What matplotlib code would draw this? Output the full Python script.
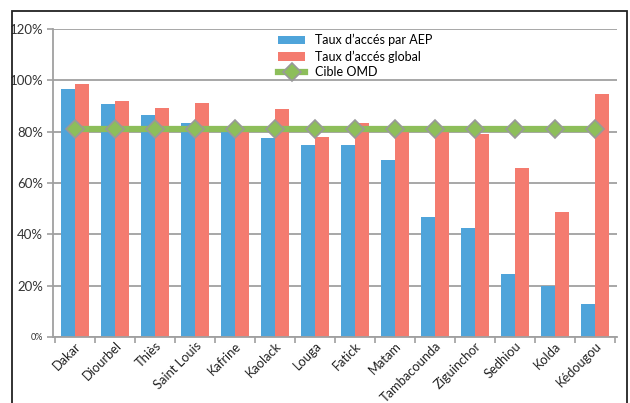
import numpy as np
import matplotlib
matplotlib.use('Agg')
import matplotlib.pyplot as plt
from matplotlib.patches import Rectangle
from matplotlib.ticker import FixedLocator

regions = ['Dakar', 'Diourbel', 'Thiès', 'Saint Louis', 'Kafrine', 'Kaolack', 'Louga',
           'Fatick', 'Matam', 'Tambacounda', 'Ziguinchor', 'Sedhiou', 'Kolda', 'Kédougou']
taux_aep = [96.6, 90.8, 86.5, 83.4, 79.8, 77.5, 74.8, 74.8, 69.0, 46.8, 42.5, 24.5, 19.7, 12.9]
taux_global = [98.6, 92.0, 89.2, 91.2, 80.3, 88.8, 78.0, 83.4, 79.8, 79.8, 79.1, 65.8, 48.7, 94.7]
cible_omd = [81] * len(regions)
y_ticks = [0, 20, 40, 60, 80, 100, 120]

plt.rcParams['font.family'] = ['Lato', 'DejaVu Sans']

fig = plt.figure(figsize=(6.3, 4.03), dpi=100)
ax = fig.add_axes([53 / 630, 66 / 403, 564 / 630, 308 / 403])

# outer chart frame
fig.patches.append(Rectangle((12 / 630, -0.05), 615 / 630, (392 / 403) + 0.05,
                             transform=fig.transFigure, fill=False,
                             edgecolor='#222222', linewidth=1.3))

x = np.arange(len(regions))
w = 0.34
b1 = ax.bar(x - w / 2, taux_aep, w, color='#4FA4DA', label="Taux d’accés par AEP", zorder=2)
b2 = ax.bar(x + w / 2, taux_global, w, color='#F47B6F', label="Taux d’accés global", zorder=2)
l1, = ax.plot(x, cible_omd, color='#8DBE5A', linewidth=4.5, marker='D', markersize=9,
              markerfacecolor='#8DBE5A', markeredgecolor='#999999', markeredgewidth=1.2,
              label='Cible OMD', zorder=3)

ax.set_xlim(-0.55, len(regions) - 0.45)
ax.set_ylim(0, 120)
ax.set_yticks(y_ticks)
ax.set_yticklabels([f'{v}%' for v in y_ticks], fontsize=9.5, color='#333333')
ax.get_yticklabels()[0].set_fontsize(6.5)
ax.yaxis.grid(True, color='#A0A0A0', linewidth=1.3, zorder=0)
ax.set_axisbelow(True)

ax.set_xticks(x)
ax.set_xticklabels(regions, rotation=45, ha='right', rotation_mode='anchor',
                   fontsize=9.3, color='#222222')
ax.tick_params(axis='x', length=0, pad=2)
ax.xaxis.set_minor_locator(FixedLocator(np.arange(-0.5, len(regions), 1)))
ax.tick_params(axis='x', which='minor', length=4, color='#A0A0A0', width=1.2)
ax.tick_params(axis='y', length=4, color='#A0A0A0', width=1.2, pad=3)

for s in ['top', 'right']:
    ax.spines[s].set_visible(False)
for s in ['left', 'bottom']:
    ax.spines[s].set_color('#A0A0A0')
    ax.spines[s].set_linewidth(1.3)

ax.legend([b1, b2, l1], [b1.get_label(), b2.get_label(), l1.get_label()],
          loc='upper left', bbox_to_anchor=(0.39, 1.0), frameon=False, fontsize=9,
          handlelength=2.2, labelspacing=0.3, borderaxespad=0.0)

fig.savefig('out.png', dpi=100)
